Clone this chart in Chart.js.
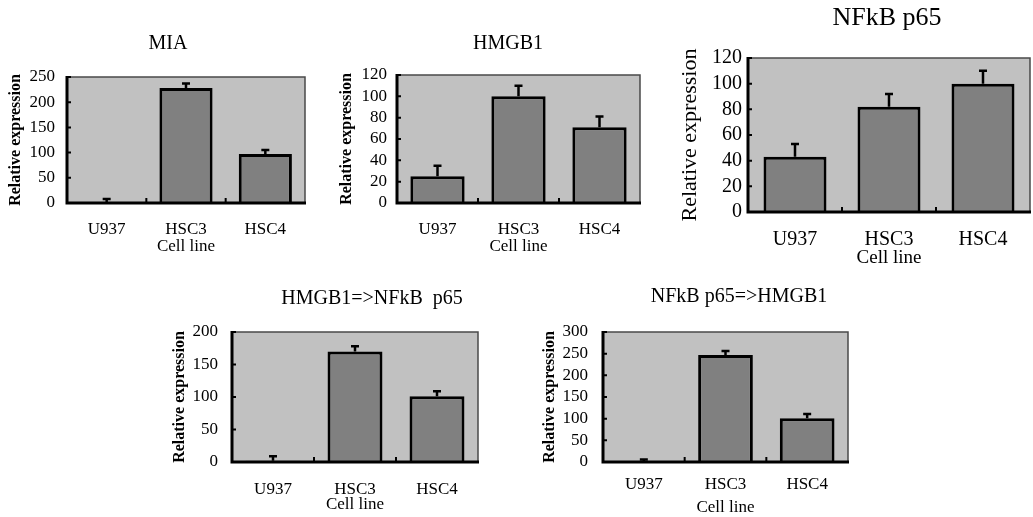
<!DOCTYPE html>
<html>
<head>
<meta charset="utf-8">
<title>Relative expression by cell line</title>
<script src="https://cdn.jsdelivr.net/npm/chart.js@4.4.1/dist/chart.umd.min.js"></script>
<style>
    html, body { margin: 0; padding: 0; background: #fff; overflow: hidden; }
    body { width: 1033px; height: 517px; position: relative; }
    canvas { position: absolute; }
</style>
</head>
<body>
<canvas id="chartMIA"></canvas>
<canvas id="chartHMGB1"></canvas>
<canvas id="chartNFkB"></canvas>
<canvas id="chartHMGB1toNFkB"></canvas>
<canvas id="chartNFkBtoHMGB1"></canvas>
<script>
// Data
const cellLines = ['U937', 'HSC3', 'HSC4'];

const miaValues = [2, 228, 97];
const miaErrors = [6, 9, 8];
const miaTicks = [0, 50, 100, 150, 200, 250];

const hmgb1Values = [25, 100, 71];
const hmgb1Errors = [10, 10, 10];
const hmgb1Ticks = [0, 20, 40, 60, 80, 100, 120];

const nfkbValues = [43, 82, 100];
const nfkbErrors = [10, 10, 10];
const nfkbTicks = [0, 20, 40, 60, 80, 100, 120];

const hmgb1ToNfkbValues = [2, 170, 101];
const hmgb1ToNfkbErrors = [7, 8, 8];
const hmgb1ToNfkbTicks = [0, 50, 100, 150, 200];

const nfkbToHmgb1Values = [2, 247, 101];
const nfkbToHmgb1Errors = [4, 9, 10];
const nfkbToHmgb1Ticks = [0, 50, 100, 150, 200, 250, 300];

const FONT = '"Liberation Serif", "Times New Roman", serif';
const smallFonts = { title: 20, tick: 17, yTitle: 16, yTitleWeight: 'bold', xTitle: 17 };
const bigFonts = { title: 26, tick: 20, yTitle: 22, yTitleWeight: 'normal', xTitle: 19 };

// Page layout of each panel (plot box in page pixels)
const panels = [
    { id: 'chartMIA', title: 'MIA', values: miaValues, errors: miaErrors, ticks: miaTicks,
      plot: { l: 67, t: 77, r: 305, b: 203 }, titleX: 168, titleY: 44,
      yTitleX: 16, tickRight: 55, xLabelY: 230, xTitleY: 247, fonts: smallFonts },
    { id: 'chartHMGB1', title: 'HMGB1', values: hmgb1Values, errors: hmgb1Errors, ticks: hmgb1Ticks,
      plot: { l: 397, t: 75, r: 640, b: 203 }, titleX: 508, titleY: 44,
      yTitleX: 347, tickRight: 387, xLabelY: 230, xTitleY: 247, fonts: smallFonts },
    { id: 'chartNFkB', title: 'NFkB p65', values: nfkbValues, errors: nfkbErrors, ticks: nfkbTicks,
      plot: { l: 748, t: 58, r: 1030, b: 212 }, titleX: 887, titleY: 18,
      yTitleX: 690, tickRight: 742, xLabelY: 240, xTitleY: 258, fonts: bigFonts },
    { id: 'chartHMGB1toNFkB', title: 'HMGB1=>NFkB  p65', values: hmgb1ToNfkbValues, errors: hmgb1ToNfkbErrors, ticks: hmgb1ToNfkbTicks,
      plot: { l: 232, t: 332, r: 478, b: 462 }, titleX: 372, titleY: 299,
      yTitleX: 180, tickRight: 218, xLabelY: 490, xTitleY: 505, fonts: smallFonts },
    { id: 'chartNFkBtoHMGB1', title: 'NFkB p65=>HMGB1', values: nfkbToHmgb1Values, errors: nfkbToHmgb1Errors, ticks: nfkbToHmgb1Ticks,
      plot: { l: 603, t: 332, r: 848, b: 462 }, titleX: 739, titleY: 297,
      yTitleX: 550, tickRight: 588, xLabelY: 485, xTitleY: 508, fonts: smallFonts }
];

// Plot background, frame, inner tick marks, error bars and panel title
const panelDecor = {
    id: 'panelDecor',
    beforeDatasetsDraw(chart, args, opts) {
        const { ctx, chartArea: a } = chart;
        ctx.save();
        ctx.fillStyle = '#c1c1c1';
        ctx.fillRect(a.left, a.top, a.right - a.left, a.bottom - a.top);
        ctx.restore();
    },
    afterDatasetsDraw(chart, args, opts) {
        const { ctx, chartArea: a, scales } = chart;
        const y = scales.y;
        const x = scales.x;
        const ds = chart.data.datasets[0];
        ctx.save();

        // error bars (upper half only)
        ctx.strokeStyle = '#000';
        ctx.lineWidth = 2.5;
        chart.getDatasetMeta(0).data.forEach((bar, i) => {
            const top = y.getPixelForValue(ds.data[i] + opts.errors[i]);
            ctx.beginPath();
            ctx.moveTo(bar.x, bar.y);
            ctx.lineTo(bar.x, top);
            ctx.moveTo(bar.x - 4, top);
            ctx.lineTo(bar.x + 4, top);
            ctx.stroke();
        });

        // thin top/right frame
        ctx.strokeStyle = '#4a4a4a';
        ctx.lineWidth = 1.5;
        ctx.beginPath();
        ctx.moveTo(a.left, a.top);
        ctx.lineTo(a.right, a.top);
        ctx.lineTo(a.right, a.bottom);
        ctx.stroke();

        // heavy axes
        ctx.strokeStyle = '#000';
        ctx.lineWidth = 3;
        ctx.beginPath();
        ctx.moveTo(a.left, a.top - 1);
        ctx.lineTo(a.left, a.bottom);
        ctx.lineTo(a.right + 1, a.bottom);
        ctx.stroke();

        // inward tick marks
        ctx.lineWidth = 2;
        ctx.beginPath();
        y.ticks.forEach(t => {
            const py = y.getPixelForValue(t.value);
            ctx.moveTo(a.left, py);
            ctx.lineTo(a.left + 4, py);
        });
        for (let i = 0; i < cellLines.length - 1; i++) {
            const px = (x.getPixelForValue(i) + x.getPixelForValue(i + 1)) / 2;
            ctx.moveTo(px, a.bottom);
            ctx.lineTo(px, a.bottom - 5);
        }
        ctx.stroke();
        ctx.restore();
    },
    afterDraw(chart, args, opts) {
        const { ctx } = chart;
        ctx.save();
        ctx.fillStyle = '#000';
        ctx.font = `${opts.fontSize}px ${FONT}`;
        ctx.textAlign = 'center';
        ctx.textBaseline = 'middle';
        ctx.fillText(opts.text, opts.x, opts.y);
        ctx.restore();
    }
};

function buildPanel(p) {
    const f = p.fonts;
    const cl = Math.round(p.yTitleX - 0.6 * f.yTitle - 2);
    const ct = p.titleY - 20;
    const cr = p.plot.r + 12;
    const cb = Math.round(p.xTitleY + 0.6 * f.xTitle + 2);

    const canvas = document.getElementById(p.id);
    canvas.width = cr - cl;
    canvas.height = cb - ct;
    canvas.style.left = cl + 'px';
    canvas.style.top = ct + 'px';

    return new Chart(canvas, {
        type: 'bar',
        data: {
            labels: cellLines,
            datasets: [{
                data: p.values,
                backgroundColor: '#808080',
                borderColor: '#000',
                borderWidth: 3,
                categoryPercentage: 1,
                barPercentage: 0.67
            }]
        },
        options: {
            responsive: false,
            animation: false,
            events: [],
            layout: { padding: { top: p.plot.t - ct, right: cr - p.plot.r, left: 0, bottom: 0 } },
            plugins: {
                legend: { display: false },
                tooltip: { enabled: false },
                title: { display: false },
                panelDecor: {
                    errors: p.errors,
                    text: p.title,
                    x: p.titleX - cl,
                    y: p.titleY - ct,
                    fontSize: f.title
                }
            },
            scales: {
                x: {
                    grid: { display: false, drawTicks: false },
                    border: { display: false },
                    ticks: {
                        color: '#000',
                        font: { family: FONT, size: f.tick },
                        padding: p.xLabelY - p.plot.b - 0.6 * f.tick,
                        maxRotation: 0
                    },
                    title: {
                        display: true,
                        text: 'Cell line',
                        color: '#000',
                        font: { family: FONT, size: f.xTitle },
                        padding: { top: 0, bottom: 2 }
                    },
                    afterFit: s => { s.height = cb - p.plot.b; }
                },
                y: {
                    min: p.ticks[0],
                    max: p.ticks[p.ticks.length - 1],
                    grid: { display: false, drawTicks: false },
                    border: { display: false },
                    ticks: {
                        color: '#000',
                        autoSkip: false,
                        font: { family: FONT, size: f.tick },
                        padding: p.plot.l - p.tickRight
                    },
                    afterBuildTicks: s => { s.ticks = p.ticks.map(v => ({ value: v })); },
                    title: {
                        display: true,
                        text: 'Relative expression',
                        color: '#000',
                        font: { family: FONT, size: f.yTitle, weight: f.yTitleWeight },
                        padding: { top: 2, bottom: 0 }
                    },
                    afterFit: s => { s.width = p.plot.l - cl; }
                }
            }
        },
        plugins: [panelDecor]
    });
}

panels.forEach(buildPanel);
</script>
</body>
</html>
